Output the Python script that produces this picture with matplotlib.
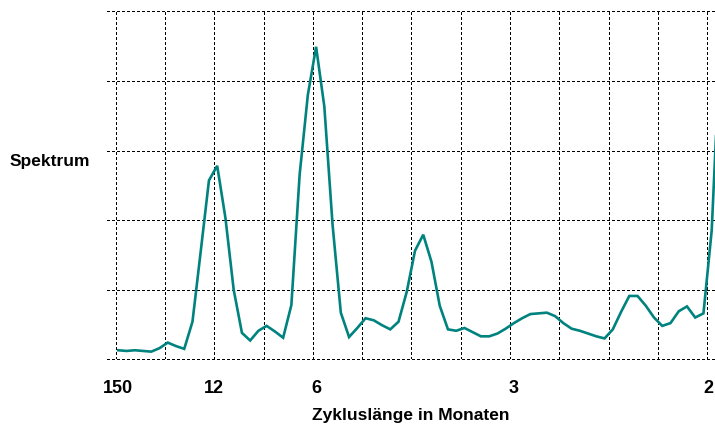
import numpy as np
import matplotlib
matplotlib.use('Agg')
import matplotlib.pyplot as plt
from matplotlib.transforms import ScaledTranslation

# Periodogramm, Frequenzschritt 1/144 Monate
n_months = 144
spectrum = [0.13, 0.12, 0.13, 0.12, 0.11, 0.16, 0.24, 0.19, 0.15, 0.54,
            1.55, 2.57, 2.78, 2.03, 1.00, 0.38, 0.27, 0.41, 0.48, 0.40,
            0.31, 0.78, 2.65, 3.80, 4.49, 3.63, 1.93, 0.67, 0.32, 0.45,
            0.59, 0.56, 0.49, 0.43, 0.54, 0.97, 1.56, 1.79, 1.40, 0.77,
            0.43, 0.41, 0.45, 0.39, 0.33, 0.33, 0.37, 0.44, 0.52, 0.59,
            0.65, 0.66, 0.67, 0.62, 0.52, 0.44, 0.41, 0.37, 0.33, 0.30,
            0.43, 0.68, 0.91, 0.91, 0.77, 0.60, 0.48, 0.52, 0.69, 0.76,
            0.60, 0.66, 1.85, 4.45]
freq = np.arange(len(spectrum)) / n_months

tick_periods = [150, 12, 6, 3, 2]
tick_pos = [0, 1 / 12, 1 / 6, 1 / 3, 1 / 2]
tick_labels = [str(p) for p in tick_periods]

plt.rcParams['font.family'] = ['Liberation Sans', 'DejaVu Sans']
plt.rcParams['font.weight'] = 'bold'

fig = plt.figure(figsize=(7.15, 4.28), dpi=100)
ax = fig.add_axes([107 / 715, 1 - 359.3 / 428, 608 / 715, 348 / 428])

ax.plot(freq, spectrum, color='#00837E', linewidth=1.9, solid_joinstyle='miter')

ax.set_xlim(-0.00952, 0.50278)
ax.set_ylim(0, 5)

# Gitter
grid_style = dict(color='black', linewidth=1.0, linestyle=(0, (1.5, 1.7)),
                  antialiased=False)
ax.set_xticks(tick_pos)
ax.set_xticklabels(tick_labels, fontsize=13, fontweight='bold')
ax.set_xticks(-0.00219 + np.arange(13) * 0.04154, minor=True)
ax.set_yticks(np.arange(6))
ax.set_yticklabels([])
ax.grid(False, which='major', axis='x')
ax.grid(True, which='minor', axis='x', **grid_style)
ax.grid(True, which='major', axis='y', **grid_style)
ax.tick_params(axis='both', which='both', length=0)
ax.tick_params(axis='x', pad=15)
for gl in ax.get_ygridlines():
    gl.set_clip_on(False)

# Beschriftungen "12" und "2" leicht nach links, wie im Original
labels = ax.get_xticklabels()
for i, dx in [(1, -3.5), (4, -3)]:
    labels[i].set_transform(labels[i].get_transform()
                            + ScaledTranslation(dx / 100, 0, fig.dpi_scale_trans))

for s in ax.spines.values():
    s.set_visible(False)

ax.set_xlabel('Zykluslänge in Monaten', fontsize=12.5, fontweight='bold', labelpad=8)
ax.set_ylabel('Spektrum', fontsize=12.5, fontweight='bold', rotation=0,
              ha='center', va='center')
ax.yaxis.set_label_coords(-0.0938, 0.568)

fig.savefig('out.png', dpi=100)
